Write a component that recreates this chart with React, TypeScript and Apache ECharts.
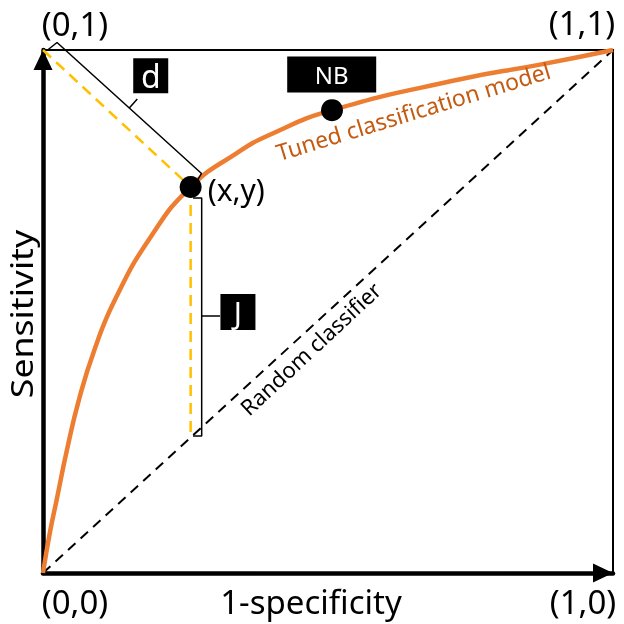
import React, { useEffect, useRef } from "react";
import * as echarts from "echarts";

// ROC curve of the tuned classification model (1-specificity, sensitivity)
const rocX = [0, 0.012, 0.024, 0.042, 0.063, 0.09, 0.126, 0.188, 0.259, 0.34, 0.398, 0.507, 0.732, 0.872, 1];
const rocY = [0, 0.077, 0.14, 0.235, 0.331, 0.426, 0.522, 0.641, 0.738, 0.803, 0.838, 0.885, 0.944, 0.972, 1];

// random classifier diagonal
const randomX = [0, 1];
const randomY = [0, 1];

// highlighted points
const perfectPoint = [0, 1];
const optimalPoint = [0.259, 0.738];
const nbPoint = [0.507, 0.885];

// annotation brackets (data coordinates)
const dBracketX = [0.007, 0.0246, 0.1514, 0.1654, 0.1514, 0.2781, 0.2711];
const dBracketY = [0.999, 1.0143, 0.8891, 0.9061, 0.8891, 0.7639, 0.7514];
const jBracketX = [0.2632, 0.2784, 0.2784, 0.3105, 0.2784, 0.2784, 0.2632];
const jBracketY = [0.717, 0.717, 0.4914, 0.4914, 0.4914, 0.262, 0.262];

// annotation boxes
const boxLabels = ["d", "J", "NB"];
const boxX = [0.189, 0.342, 0.5065];
const boxY = [0.951, 0.499, 0.953];

// texts
const cornerLabels = ["(0,0)", "(1,0)", "(0,1)", "(1,1)"];
const xTitle = "1-specificity";
const yTitle = "Sensitivity";
const curveLabel = "Tuned classification model";
const randomLabel = "Random classifier";
const pointLabel = "(x,y)";

const FONT = "'Noto Sans', 'Open Sans', sans-serif";

export default function App() {
  const ref = useRef<HTMLDivElement>(null);

  useEffect(() => {
    if (!ref.current) return;
    const chart = echarts.init(ref.current, undefined, { renderer: "svg" });

    const zip = (xs: number[], ys: number[]) => xs.map((x, i) => [x, ys[i]]);

    const axisCommon = {
      type: "value" as const,
      min: 0,
      max: 1,
      axisTick: { show: false },
      axisLabel: { show: false },
      splitLine: { show: false },
      axisLine: {
        show: true,
        symbol: ["none", "triangle"],
        symbolSize: [19, 20],
        symbolOffset: [0, -10],
        lineStyle: { color: "#000", width: 4.5 },
      },
    };

    const boxSizes: number[][] = [[35, 35], [35, 36], [89, 36]];
    const boxFont = [32, 30, 24];

    const text = (t: string, x: number, y: number, size: number, opts: any = {}) => ({
      type: "text",
      x,
      y,
      rotation: opts.rotation || 0,
      scaleX: opts.scaleX || 1,
      z: 100,
      style: {
        text: t,
        fontSize: size,
        fontFamily: FONT,
        fill: opts.fill || "#000",
        align: "center",
        verticalAlign: "middle",
      },
    });

    chart.setOption({
      animation: false,
      grid: {
        left: 43,
        top: 50,
        width: 570,
        height: 523,
        show: true,
        borderColor: "#000",
        borderWidth: 2,
        backgroundColor: "transparent",
      },
      xAxis: { ...axisCommon, position: "bottom" },
      yAxis: { ...axisCommon, position: "left" },
      series: [
        {
          type: "line",
          data: zip(randomX, randomY),
          symbol: "none",
          lineStyle: { color: "#000", width: 2, type: [10, 7] },
          z: 2,
        },
        {
          type: "line",
          data: [perfectPoint, optimalPoint],
          symbol: "none",
          lineStyle: { color: "#FFC000", width: 2.5, type: [11, 7] },
          z: 3,
        },
        {
          type: "line",
          data: [optimalPoint, [optimalPoint[0], optimalPoint[0]]],
          symbol: "none",
          lineStyle: { color: "#FFC000", width: 2.5, type: [11, 7] },
          z: 3,
        },
        {
          type: "line",
          data: zip(rocX, rocY),
          symbol: "none",
          smooth: 0.5,
          lineStyle: { color: "#ED7D31", width: 4.5 },
          z: 4,
        },
        {
          type: "line",
          data: zip(dBracketX, dBracketY),
          symbol: "none",
          clip: false,
          lineStyle: { color: "#000", width: 1.5 },
          z: 5,
        },
        {
          type: "line",
          data: zip(jBracketX, jBracketY),
          symbol: "none",
          clip: false,
          lineStyle: { color: "#000", width: 1.5 },
          z: 5,
        },
        {
          type: "scatter",
          symbol: "circle",
          symbolSize: 22,
          itemStyle: { color: "#000", opacity: 1 },
          z: 6,
          data: [
            {
              value: optimalPoint,
              label: {
                show: true,
                formatter: pointLabel,
                position: "right",
                distance: 6,
                offset: [0, 2],
                color: "#000",
                fontSize: 30,
                fontFamily: FONT,
              },
            },
            { value: nbPoint },
          ],
        },
        {
          type: "scatter",
          symbol: "rect",
          clip: false,
          itemStyle: { color: "#000", opacity: 1 },
          z: 7,
          data: boxLabels.map((l, i) => ({
            value: [boxX[i], boxY[i]],
            symbolSize: boxSizes[i],
            label: {
              show: true,
              formatter: l,
              position: "inside",
              color: "#fff",
              fontSize: boxFont[i],
              fontFamily: FONT,
            },
          })),
        },
      ],
      graphic: [
        text(cornerLabels[0], 75, 601, 33),
        text(cornerLabels[1], 583, 601, 33),
        text(cornerLabels[2], 75, 23, 33),
        text(cornerLabels[3], 582, 22, 33),
        text(xTitle, 311, 601, 33),
        text(yTitle, 21, 314, 31, { rotation: Math.PI / 2, scaleX: 1.15 }),
        text(curveLabel, 413, 111, 23, { rotation: (17 * Math.PI) / 180, fill: "#C55A11" }),
        text(randomLabel, 310, 348, 22, { rotation: (43 * Math.PI) / 180 }),
      ],
    });

    return () => chart.dispose();
  }, []);

  return (
    <div
      ref={ref}
      style={{ position: "fixed", left: 0, top: 0, width: 624, height: 624 }}
    />
  );
}
